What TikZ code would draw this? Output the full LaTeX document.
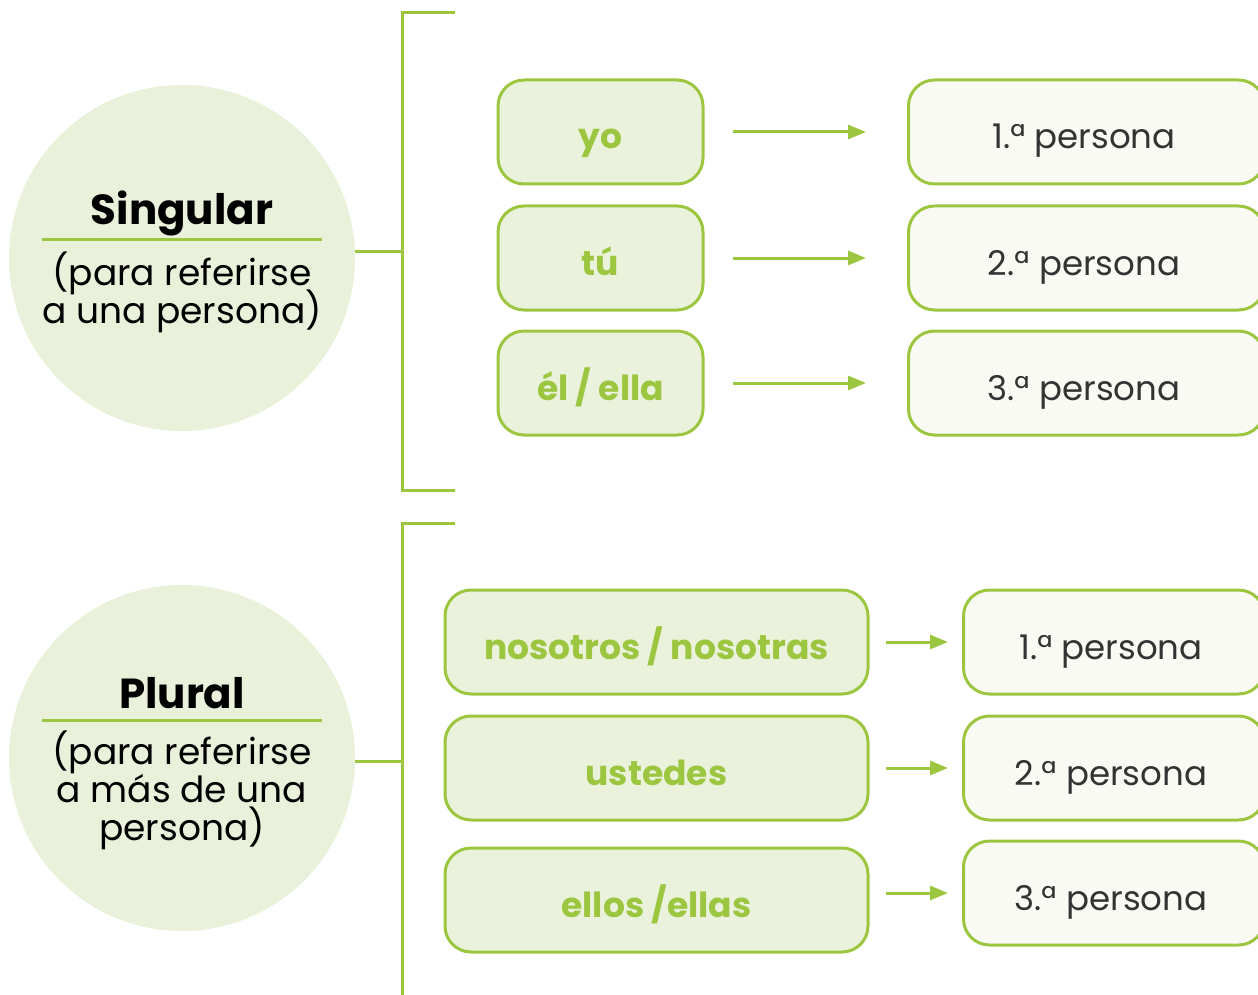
\documentclass[tikz,border=0pt]{standalone}
\usepackage{fontspec}
\setmainfont{Poppins}
\usetikzlibrary{arrows.meta}
\definecolor{gr}{HTML}{9CC63F}
\definecolor{circfill}{HTML}{E9F1DA}
\definecolor{lfill}{HTML}{EAF2DC}
\definecolor{rfill}{HTML}{F9FAF4}
\definecolor{txt}{HTML}{333333}
\tikzset{
  line/.style={draw=gr, line width=3pt},
  arr/.style={draw=gr, line width=3pt, -{Triangle[length=18pt,width=14pt]}},
  circ/.style={circle, fill=circfill, minimum size=346pt, inner sep=0pt},
  lbox/.style={draw=gr, line width=3pt, fill=lfill, rounded corners=26pt, minimum height=104pt, inner sep=0pt},
  rbox/.style={draw=gr, line width=3pt, fill=rfill, rounded corners=26pt, minimum height=104pt, inner sep=0pt},
  ltxt/.style={anchor=base, inner sep=0pt, font=\fontsize{34.5}{34.5}\selectfont\bfseries, text=gr},
  rtxt/.style={anchor=base, inner sep=0pt, font=\fontsize{34}{34}\selectfont, text=txt},
  ttl/.style={anchor=base, inner sep=0pt, font=\fontsize{42}{42}\selectfont\bfseries, text=black},
  sub/.style={anchor=base, inner sep=0pt, font=\fontsize{36}{36}\selectfont, text=black},
}
\begin{document}
\begin{tikzpicture}[x=1pt,y=-1pt]
\useasboundingbox (0,0) rectangle (1258,995);
% circles
\node[circ] (sing) at (182,258) {};
\node[circ] (plur) at (182,758) {};
\node[ttl] (singt) at (182,225) {Singular};
\node[sub] (sings1) at (182,285) {(para referirse};
\node[sub] (sings2) at (182,323) {a una persona)};
\node[ttl] (plurt) at (182,708) {Plural};
\node[sub] (plurs1) at (182,764) {(para referirse};
\node[sub] (plurs2) at (182,802) {a más de una};
\node[sub] (plurs3) at (182,840) {persona)};
\coordinate (u1a) at (42,239); \coordinate (u1b) at (322,239);
\coordinate (u2a) at (42,720); \coordinate (u2b) at (322,720);
\draw[line] (u1a) -- (u1b);
\draw[line] (u2a) -- (u2b);
% brackets
\coordinate (b1t) at (455,13); \coordinate (b1tl) at (402,13);
\coordinate (b1bl) at (402,490); \coordinate (b1b) at (455,490);
\coordinate (b1m) at (402,251);
\draw[line] (b1t) -- (b1tl) -- (b1bl) -- (b1b);
\draw[line] (b1m -| sing.east) -- (b1m);
\coordinate (b2t) at (455,523); \coordinate (b2tl) at (402,523);
\coordinate (b2bl) at (402,998);
\coordinate (b2m) at (402,761);
\draw[line] (b2t) -- (b2tl) -- (b2bl);
\draw[line] (b2m -| plur.east) -- (b2m);
% singular boxes
\node[lbox, minimum width=205pt] (yo) at (600.5,132) {};
\node[lbox, minimum width=205pt] (tu) at (600.5,258) {};
\node[lbox, minimum width=205pt] (el) at (600.5,383) {};
\node[ltxt] (yot) at (600.5,149) {yo};
\node[ltxt] (tut) at (600.5,275) {tú};
\node[ltxt] (elt) at (600.5,400) {él / ella};
\node[rbox, minimum width=356pt, anchor=west] (s1) at (907,132) {};
\node[rbox, minimum width=356pt, anchor=west] (s2) at (907,258) {};
\node[rbox, minimum width=356pt, anchor=west] (s3) at (907,383) {};
\node[rtxt] (s1t) at (1084,149) {1.ª persona};
\node[rtxt] (s2t) at (1084,275) {2.ª persona};
\node[rtxt] (s3t) at (1084,400) {3.ª persona};
\draw[arr] ([xshift=28pt]yo.east) -- ([xshift=-41pt]s1.west);
\draw[arr] ([xshift=28pt]tu.east) -- ([xshift=-41pt]s2.west);
\draw[arr] ([xshift=28pt]el.east) -- ([xshift=-41pt]s3.west);
% plural boxes
\node[lbox, minimum width=423pt] (nos) at (656.5,642) {};
\node[lbox, minimum width=423pt] (ust) at (656.5,768) {};
\node[lbox, minimum width=423pt] (ell) at (656.5,900) {};
\node[ltxt] (nost) at (656.5,659) {nosotros / nosotras};
\node[ltxt] (ustt) at (656.5,785) {ustedes};
\node[ltxt] (ellt) at (656.5,917) {ellos /ellas};
\node[rbox, minimum width=301pt, anchor=west] (p1) at (962,642) {};
\node[rbox, minimum width=301pt, anchor=west] (p2) at (962,768) {};
\node[rbox, minimum width=301pt, anchor=west] (p3) at (962,893) {};
\node[rtxt] (p1t) at (1111,659) {1.ª persona};
\node[rtxt] (p2t) at (1111,785) {2.ª persona};
\node[rtxt] (p3t) at (1111,910) {3.ª persona};
\draw[arr] ([xshift=16pt]nos.east) -- ([xshift=-14pt]p1.west);
\draw[arr] ([xshift=16pt]ust.east) -- ([xshift=-14pt]p2.west);
\draw[arr] ([xshift=16pt]ell.east |- p3.west) -- ([xshift=-14pt]p3.west);
\end{tikzpicture}
\end{document}
